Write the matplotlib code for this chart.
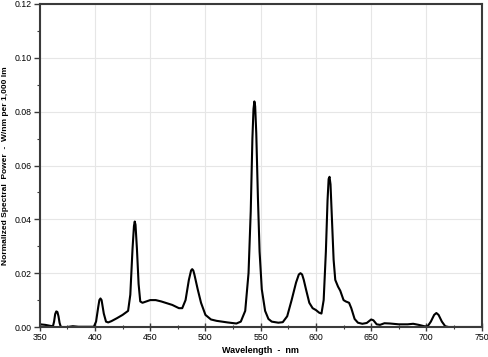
import matplotlib
matplotlib.use("Agg")
import matplotlib.pyplot as plt
from matplotlib.ticker import MultipleLocator, FormatStrFormatter

wavelength = [350, 355, 360, 362, 363, 364, 365, 366, 367, 368, 369, 370, 375, 380, 385, 390, 399,
              401, 403, 404, 405, 406, 408, 410, 412, 415, 420, 425, 430, 432, 434, 435.3, 436, 436.7, 438, 439.5, 441,
              443, 450, 455, 460, 470, 476, 479, 482, 485, 487, 488, 489, 490, 493, 496, 500, 505, 510,
              520, 528, 532, 536, 539, 541, 542.5, 543.5, 544.3, 545, 546, 547.5, 549, 551, 554, 557, 560, 566, 570, 574, 578,
              582, 584.5, 586, 587.5, 589, 591, 594, 597, 600, 603, 605, 607, 609, 610.5, 611.5, 612.3, 613.2, 614.5, 616, 617.5, 620,
              622, 625, 627, 630, 632, 635, 638, 642, 646, 650, 652, 655, 658, 662, 667, 675, 683,
              688, 693, 698, 701, 704, 707, 709, 711, 714, 717, 720, 750]
power = [0.0010, 0.0008, 0.0004, 0.0003, 0.0020, 0.0048, 0.0058, 0.0056, 0.0040, 0.0015, 0.0002,
         0.0000, 0.0000, 0.0003, 0.0001, 0.0001, 0.0001,
         0.0020, 0.0075, 0.0100, 0.0106, 0.0100, 0.0050, 0.0020, 0.0017, 0.0022, 0.0033, 0.0045, 0.0060,
         0.0120, 0.0290, 0.0375, 0.0392, 0.0380, 0.0290, 0.0160, 0.0095,
         0.0090, 0.0100, 0.0100, 0.0095, 0.0082, 0.0070, 0.0070, 0.0100, 0.0175, 0.0210, 0.0215, 0.0210,
         0.0195, 0.0140, 0.0090, 0.0045, 0.0028, 0.0023,
         0.0017, 0.0013, 0.0020, 0.0060, 0.0200, 0.0430, 0.0700, 0.0810, 0.0838, 0.0820, 0.0720, 0.0480,
         0.0280, 0.0140, 0.0060, 0.0030, 0.0020, 0.0016, 0.0018, 0.0040, 0.0100,
         0.0165, 0.0195, 0.0200, 0.0195, 0.0175, 0.0140, 0.0090, 0.0070, 0.0063, 0.0053, 0.0050, 0.0100, 0.0280,
         0.0470, 0.0550, 0.0558, 0.0530, 0.0400, 0.0250, 0.0175, 0.0150,
         0.0135, 0.0100, 0.0095, 0.0090, 0.0070, 0.0030, 0.0016, 0.0012, 0.0015, 0.0028, 0.0025,
         0.0010, 0.0008, 0.0014, 0.0013, 0.0010, 0.0010,
         0.0012, 0.0008, 0.0003, 0.0002, 0.0020, 0.0045, 0.0052, 0.0045, 0.0020, 0.0003, 0.0000,
         0.0000]

plt.rcParams['font.family'] = ['Liberation Sans', 'DejaVu Sans']

fig = plt.figure(figsize=(4.89, 3.57), dpi=100)
ax = fig.add_axes([0.0812, 0.084, 0.9038, 0.9048])
ax.plot(wavelength, power, color='black', linewidth=1.5, solid_joinstyle='round')

ax.set_xlim(350, 750)
ax.set_ylim(0, 0.12)
ax.xaxis.set_major_locator(MultipleLocator(50))
ax.xaxis.set_minor_locator(MultipleLocator(25))
ax.yaxis.set_major_locator(MultipleLocator(0.02))
ax.yaxis.set_minor_locator(MultipleLocator(0.01))
ax.yaxis.set_major_formatter(FormatStrFormatter('%.2f'))
ax.grid(True, which='major', color='#e6e6e6', linewidth=0.8)
ax.set_axisbelow(True)
for s in ax.spines.values():
    s.set_color('#3a3a3a')
    s.set_linewidth(1.5)
ax.tick_params(axis='x', which='major', direction='inout', length=6, width=1, color='#3a3a3a',
               labelsize=6.3, pad=1)
ax.tick_params(axis='x', which='minor', direction='inout', length=3, width=0.8, color='#3a3a3a')
ax.tick_params(axis='y', which='major', direction='out', length=4, width=1, color='#3a3a3a',
               labelsize=6.3, pad=1.5)
ax.tick_params(axis='y', which='minor', direction='out', length=2, width=0.8, color='#3a3a3a')
ax.set_xlabel('Wavelength  -  nm', fontsize=6.5, fontweight='bold', labelpad=3)
ax.set_ylabel('Normalized Spectral  Power  -  W/nm per 1,000 lm', fontsize=6.0, fontweight='bold', labelpad=4)

fig.savefig('out.png', dpi=100)
